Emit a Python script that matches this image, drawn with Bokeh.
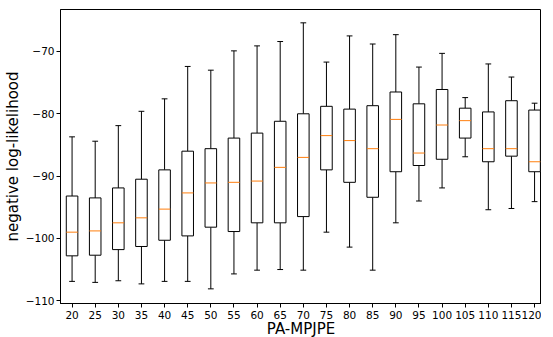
from bokeh.plotting import figure
from bokeh.models import FixedTicker, Range1d
from bokeh.embed import file_html
from bokeh.resources import INLINE

categories = ["20", "25", "30", "35", "40", "45", "50", "55", "60", "65", "70",
              "75", "80", "85", "90", "95", "100", "105", "110", "115", "120"]
whisker_high = [-83.7, -84.4, -81.9, -79.6, -77.6, -72.4, -73.0, -69.9, -69.1, -68.4, -65.4,
                -71.7, -67.5, -68.8, -67.3, -72.5, -70.3, -77.4, -72.0, -74.1, -78.3]
q3 = [-93.2, -93.5, -91.9, -90.5, -89.0, -86.0, -85.6, -83.9, -83.1, -81.2, -80.0,
      -78.8, -79.25, -78.7, -76.5, -78.4, -76.1, -79.1, -79.7, -77.9, -79.4]
median = [-99.0, -98.8, -97.5, -96.7, -95.3, -92.7, -91.1, -91.0, -90.8, -88.6, -87.0,
          -83.5, -84.3, -85.6, -80.9, -86.3, -81.8, -81.1, -85.6, -85.6, -87.7]
q1 = [-102.8, -102.7, -101.8, -101.3, -100.3, -99.6, -98.2, -98.9, -97.5, -97.5, -96.5,
      -89.0, -91.0, -93.4, -89.3, -88.3, -87.3, -83.9, -87.7, -86.8, -89.3]
whisker_low = [-106.9, -107.06, -106.8, -107.3, -106.9, -106.9, -108.1, -105.7, -105.1, -105.0, -105.1,
               -99.0, -101.4, -105.1, -97.5, -94.0, -91.9, -86.9, -95.4, -95.2, -94.1]
y_ticks = [-110, -100, -90, -80, -70]

pos = list(range(1, len(categories) + 1))

p = figure(frame_width=481, frame_height=294, output_backend="svg", toolbar_location=None,
           x_range=Range1d(0.5, 21.3), y_range=Range1d(-110.45, -63.26),
           min_border_left=56, min_border_right=0, min_border_top=9, min_border_bottom=0)
p.background_fill_color = "white"
p.border_fill_color = "white"
p.grid.visible = False
p.outline_line_color = "black"
p.outline_line_width = 1

black = "#000000"
orange = "#ff7f0e"

# whiskers
p.segment(x0=pos, y0=q3, x1=pos, y1=whisker_high, line_color=black, line_width=1)
p.segment(x0=pos, y0=q1, x1=pos, y1=whisker_low, line_color=black, line_width=1)
# caps
p.segment(x0=[x - 0.125 for x in pos], y0=whisker_high, x1=[x + 0.125 for x in pos], y1=whisker_high,
          line_color=black, line_width=1)
p.segment(x0=[x - 0.125 for x in pos], y0=whisker_low, x1=[x + 0.125 for x in pos], y1=whisker_low,
          line_color=black, line_width=1)
# boxes
p.quad(left=[x - 0.25 for x in pos], right=[x + 0.25 for x in pos], bottom=q1, top=q3,
       fill_color="white", line_color=black, line_width=1)
# medians
p.segment(x0=[x - 0.25 for x in pos], y0=median, x1=[x + 0.25 for x in pos], y1=median,
          line_color=orange, line_width=1)

font = "DejaVu Sans"
for ax in (p.xaxis[0], p.yaxis[0]):
    ax.axis_line_color = black
    ax.major_tick_line_color = black
    ax.minor_tick_line_color = None
    ax.major_tick_out = 4
    ax.major_tick_in = 0
    ax.major_label_text_font = font
    ax.major_label_text_font_size = "10.5px"
    ax.major_label_text_color = black
    ax.major_label_text_line_height = 1.0
    ax.axis_label_text_font = font
    ax.axis_label_text_font_size = "15px"
    ax.axis_label_text_font_style = "normal"
    ax.axis_label_text_color = black
    ax.axis_label_text_line_height = 1.0
    ax.major_label_standoff = 2

p.xaxis.ticker = FixedTicker(ticks=pos)
p.xaxis.major_label_overrides = {x: c for x, c in zip(pos, categories)}
p.xaxis.axis_label = "PA-MPJPE"
p.xaxis.major_label_standoff = 3
p.xaxis.axis_label_standoff = -2

p.yaxis.ticker = FixedTicker(ticks=y_ticks)
p.yaxis.major_label_overrides = {t: str(t).replace("-", "\u2212") for t in y_ticks}
p.yaxis.axis_label = "negative log-likelihood"
p.yaxis.axis_label_standoff = 1

open("out.html", "w").write(file_html(p, INLINE))
